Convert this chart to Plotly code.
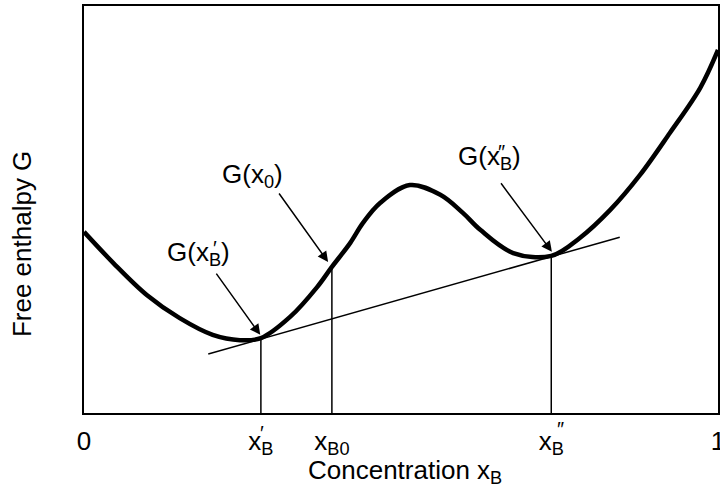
import plotly.graph_objects as go

# Free enthalpy curve G(x_B), arbitrary units
x_curve = [0.000, 0.046, 0.099, 0.151, 0.203, 0.246, 0.279, 0.325, 0.368, 0.391,
           0.420, 0.440, 0.467, 0.514, 0.562, 0.598, 0.625, 0.677, 0.737, 0.782,
           0.830, 0.877, 0.924, 0.972, 1.000]
g_curve = [0.445, 0.369, 0.290, 0.233, 0.192, 0.179, 0.184, 0.236, 0.310, 0.359,
           0.418, 0.467, 0.516, 0.560, 0.536, 0.491, 0.450, 0.393, 0.386, 0.430,
           0.499, 0.585, 0.688, 0.799, 0.892]

# Common tangent
x_tangent = [0.196, 0.845]
g_tangent = [0.145, 0.432]

# Marked concentrations and their G values
x_marks = [0.279, 0.391, 0.737]
g_marks = [0.183, 0.359, 0.385]

tick_vals = [0, 0.279, 0.391, 0.737, 1]
tick_text = ["0", "x<sub>B</sub>", "x<sub>B0</sub>", "x<sub>B</sub>", "1"]

FONT = "Liberation Sans, Arial, sans-serif"
FS = 26

fig = go.Figure()
fig.add_trace(go.Scatter(x=x_curve, y=g_curve, mode="lines",
                         line=dict(color="black", width=4.5, shape="spline", smoothing=1.0),
                         hoverinfo="skip", showlegend=False))
fig.add_trace(go.Scatter(x=x_tangent, y=g_tangent, mode="lines",
                         line=dict(color="black", width=1.5),
                         hoverinfo="skip", showlegend=False))
for xm, gm in zip(x_marks, g_marks):
    fig.add_trace(go.Scatter(x=[xm, xm], y=[0, gm], mode="lines",
                             line=dict(color="black", width=1.5),
                             hoverinfo="skip", showlegend=False))

annotations = []
# arrows (tail -> head)
arrows = [((0.207, 0.346), (0.278, 0.192)),
          ((0.306, 0.543), (0.385, 0.371)),
          ((0.656, 0.568), (0.738, 0.396))]
for (tx, ty), (hx, hy) in arrows:
    annotations.append(dict(x=hx, y=hy, ax=tx, ay=ty, xref="x", yref="y",
                            axref="x", ayref="y", text="", showarrow=True,
                            arrowhead=2, arrowsize=1.4, arrowwidth=1.5,
                            arrowcolor="black"))
# labels
labels = [(0.180, 0.393, "G(x<sub>B</sub>)"),
          (0.266, 0.583, "G(x<sub>0</sub>)"),
          (0.640, 0.628, "G(x<sub>B</sub>)")]
for lx, ly, lt in labels:
    annotations.append(dict(x=lx, y=ly, xref="x", yref="y", text=lt, showarrow=False,
                            xanchor="center", yanchor="middle",
                            font=dict(family=FONT, size=FS, color="black")))
# primes
primes = [(0.207, 0.405, "′"), (0.659, 0.642, "″"),
          (0.281, -0.049, "′"), (0.752, -0.039, "″")]
for px_, py_, pt in primes:
    annotations.append(dict(x=px_, y=py_, xref="paper", yref="paper", text=pt,
                            showarrow=False, xanchor="center", yanchor="middle",
                            font=dict(family=FONT, size=FS - 6, color="black")))
# axis titles
annotations.append(dict(x=0.506, y=-0.143, xref="paper", yref="paper",
                        xanchor="center", yanchor="middle",
                        text="Concentration x<sub>B</sub>", showarrow=False,
                        font=dict(family=FONT, size=FS, color="black")))
annotations.append(dict(x=-0.0978, y=0.415, xref="paper", yref="paper",
                        xanchor="center", yanchor="middle",
                        text="Free enthalpy G", textangle=-90, showarrow=False,
                        font=dict(family=FONT, size=FS, color="black")))

fig.update_layout(
    width=720, height=493,
    margin=dict(l=84, r=2, t=6, b=80, autoexpand=False),
    paper_bgcolor="white", plot_bgcolor="white",
    annotations=annotations,
    showlegend=False,
)
fig.update_xaxes(range=[0, 1], tickvals=tick_vals, ticktext=tick_text,
                 tickfont=dict(family=FONT, size=FS, color="black"),
                 ticklabelstandoff=4, automargin=False, ticklabeloverflow="allow",
                 showgrid=False, zeroline=False, showline=True, mirror=True,
                 linecolor="black", linewidth=1.5, ticks="")
fig.update_yaxes(range=[0, 1], showticklabels=False, showgrid=False, zeroline=False,
                 automargin=False,
                 showline=True, mirror=True, linecolor="black", linewidth=1.5, ticks="")

fig.write_html("out.html", config={"displayModeBar": False},
               post_script="document.body.style.margin='0';")
